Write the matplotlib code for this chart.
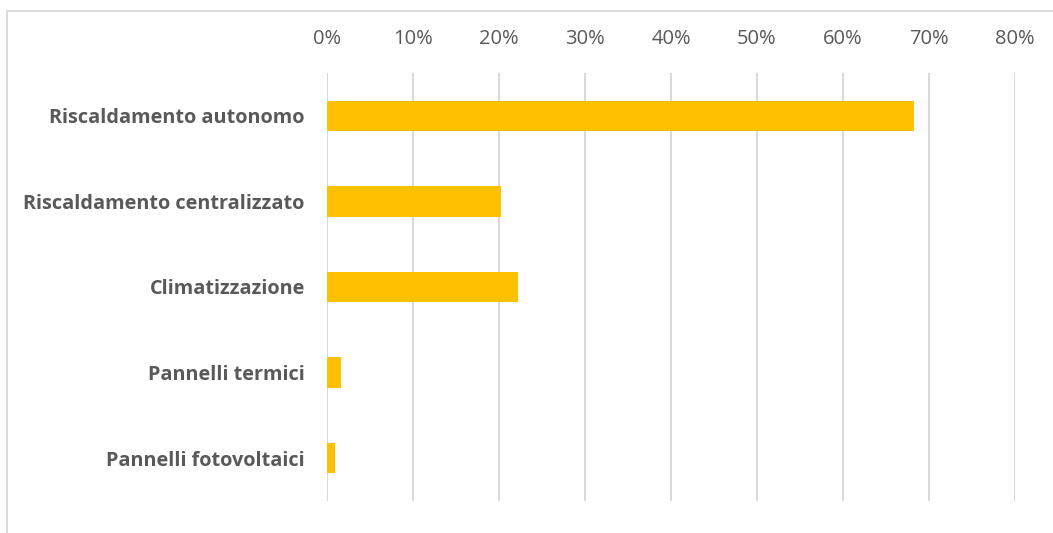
import matplotlib.pyplot as plt
from matplotlib.patches import Rectangle
from matplotlib.ticker import FuncFormatter

categorie = ['Riscaldamento autonomo', 'Riscaldamento centralizzato',
             'Climatizzazione', 'Pannelli termici', 'Pannelli fotovoltaici']
valori = [68.3, 20.2, 22.2, 1.6, 0.9]
tick_x = [0, 10, 20, 30, 40, 50, 60, 70, 80]

grigio = '#595959'
fig = plt.figure(figsize=(10.53, 5.33), dpi=100)
ax = fig.add_axes([327 / 1053, 1 - 501 / 533, (1015 - 327) / 1053, (501 - 73) / 533])

# cornice esterna del grafico
fig.patches.append(Rectangle((7 / 1053, -0.1), 1.2, 1 - 11 / 533 + 0.1,
                             transform=fig.transFigure, fill=False,
                             edgecolor='#D9D9D9', linewidth=1.3))

pos = list(range(len(categorie)))
ax.barh(pos, valori, height=0.355, color='#FFC000', zorder=3)
ax.set_ylim(len(categorie) - 0.5, -0.5)
ax.set_xlim(0, 80)

ax.set_xticks(tick_x)
ax.xaxis.set_major_formatter(FuncFormatter(lambda v, p: f'{v:.0f}%'))
ax.xaxis.tick_top()
ax.tick_params(axis='x', length=0, pad=17, labelsize=14.5, labelcolor=grigio)
ax.set_yticks(pos)
ax.set_yticklabels(categorie, fontweight='bold', fontsize=14.3, color=grigio)
ax.tick_params(axis='y', length=0, pad=16)
ax.grid(axis='x', color='#D9D9D9', linewidth=1.5, zorder=0)
for s in ax.spines.values():
    s.set_visible(False)

for lab in ax.get_xticklabels() + ax.get_yticklabels():
    lab.set_family(['Open Sans', 'DejaVu Sans'])

fig.savefig('out.png', dpi=100)
